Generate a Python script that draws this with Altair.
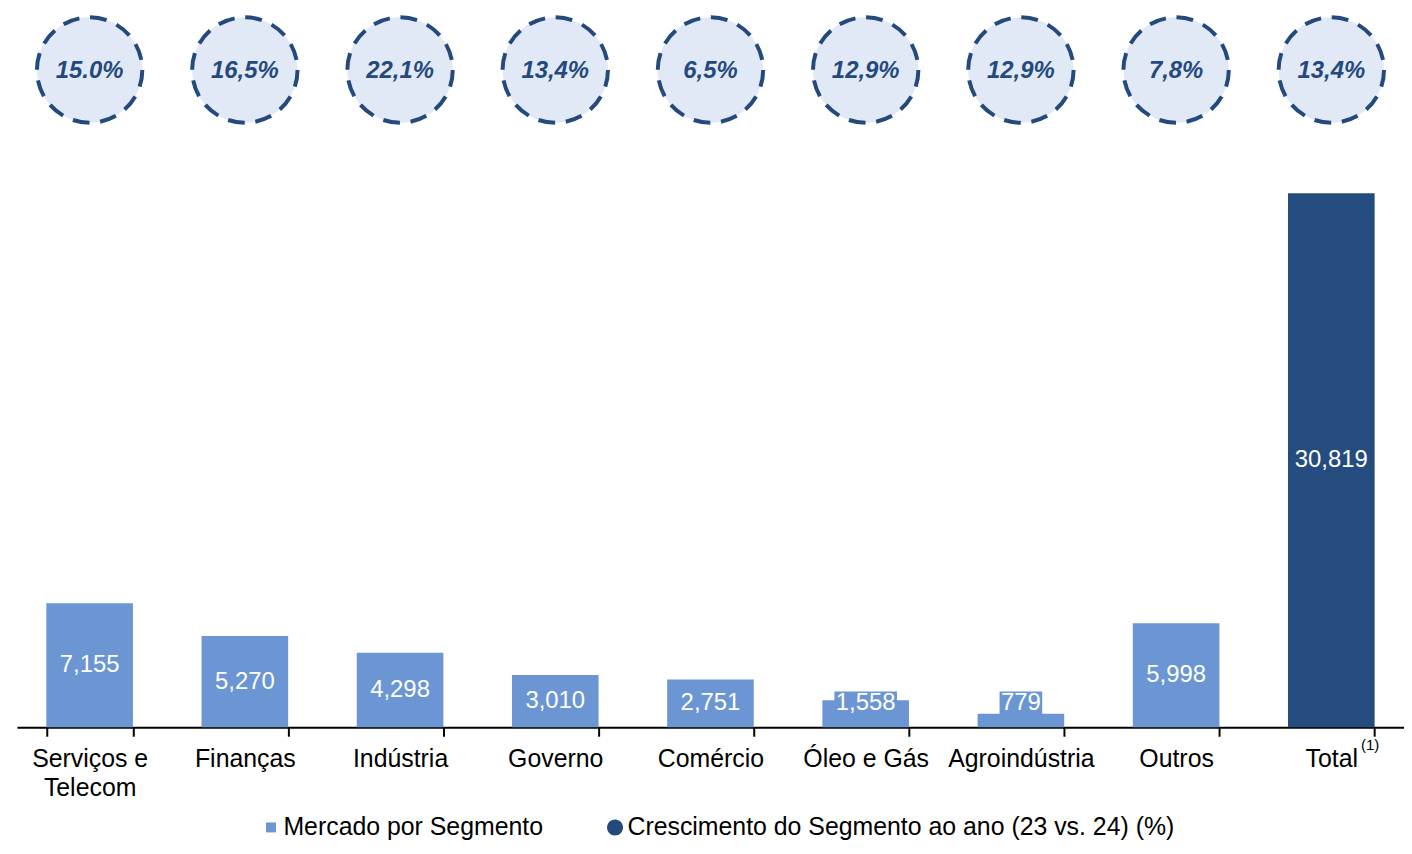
import altair as alt
import pandas as pd

# ---- data ----
categorias = ["Serviços e Telecom", "Finanças", "Indústria", "Governo", "Comércio",
              "Óleo e Gás", "Agroindústria", "Outros", "Total"]
mercado = [7155, 5270, 4298, 3010, 2751, 1558, 779, 5998, 30819]
crescimento = ["15.0%", "16,5%", "22,1%", "13,4%", "6,5%", "12,9%", "12,9%", "7,8%", "13,4%"]
series_legenda = ["Mercado por Segmento", "Crescimento do Segmento ao ano (23 vs. 24) (%)"]
nota_total = "(1)"

# ---- styling / layout ----
LIGHT = "#6b96d3"
DARK = "#254c7f"
CIRCLE_FILL = "#e1e9f6"
CIRCLE_STROKE = "#244a7d"
FONT = "Liberation Sans"

W, H = 1395, 715
YMAX = 41035.0
PX = YMAX / H  # data units per pixel

df = pd.DataFrame({"categoria": categorias, "valor": mercado, "crescimento": crescimento})
df["txt"] = df["valor"].map(lambda v: f"{v:,}")
legend_df = pd.DataFrame({"serie": series_legenda, "categoria": ["Total", "Total"]})
sup_df = pd.DataFrame({"categoria": ["Total"], "nota": [nota_total]})

xscale = alt.Scale(domain=categorias, paddingInner=0.442, paddingOuter=0.1893)
yscale = alt.Scale(domain=[0, YMAX], nice=False, zero=True)

x_enc = alt.X(
    "categoria:N", scale=xscale, sort=categorias, title=None,
    axis=alt.Axis(
        labelAngle=0, labelFont=FONT, labelFontSize=25, labelColor="black",
        labelLimit=0, labelPadding=10, labelBaseline="top", labelLineHeight=30,
        labelExpr="datum.label == 'Serviços e Telecom' ? ['Serviços e', 'Telecom'] : datum.label",
        domainColor="black", domainWidth=2, tickColor="black", tickWidth=2,
        tickSize=9, tickBand="extent", grid=False,
    ),
)
x_plain = alt.X("categoria:N", scale=xscale, sort=categorias)
y_enc = alt.Y("valor:Q", scale=yscale, axis=None, title=None)

base = alt.Chart(df)

bars = base.mark_bar().encode(
    x=x_enc,
    y=y_enc,
    color=alt.condition(alt.datum.categoria == "Total", alt.value(DARK), alt.value(LIGHT)),
)

# near-invisible carrier for the legend, inside the Total bar
SQUARE = "M-0.62,-0.62H0.62V0.62H-0.62Z"
CIRCLE = "M1,0A1,1,0,1,1,-1,0A1,1,0,1,1,1,0Z"
legend_layer = alt.Chart(legend_df).transform_calculate(yv="10000").mark_point(
    filled=True, size=0.5, opacity=1
).encode(
    x=x_plain,
    y=alt.Y("yv:Q", scale=yscale),
    color=alt.Color(
        "serie:N",
        scale=alt.Scale(domain=series_legenda, range=[LIGHT, CIRCLE_STROKE]),
        legend=alt.Legend(
            orient="none", legendX=243, legendY=H + 88, direction="horizontal",
            title=None, labelFont=FONT, labelFontSize=25, labelColor="black",
            labelLimit=0, symbolSize=260, symbolOpacity=1, columnPadding=59,
            labelOffset=0, padding=0, symbolStrokeWidth=0,
        ),
    ),
    shape=alt.Shape(
        "serie:N",
        scale=alt.Scale(domain=series_legenda, range=[SQUARE, CIRCLE]),
    ),
)

lab = base.transform_calculate(
    ly=f"max(datum.valor / 2, {24 * PX})",
    ly0=f"max(datum.valor / 2, {24 * PX}) - {12 * PX}",
    ly1=f"max(datum.valor / 2, {24 * PX}) + {12 * PX}",
    bw="length(datum.txt) * 13.3 - (indexof(datum.txt, ',') >= 0 ? 6.6 : 0) + 3",
)

label_boxes = lab.transform_filter(f"datum.valor / 2 < {24 * PX}").mark_bar(color=LIGHT).encode(
    x=x_plain,
    y=alt.Y("ly0:Q", scale=yscale),
    y2="ly1:Q",
    size=alt.Size("bw:Q", scale=None, legend=None),
)

bar_labels = lab.mark_text(font=FONT, fontSize=24, color="white", baseline="middle").encode(
    x=x_plain,
    y=alt.Y("ly:Q", scale=yscale),
    text="txt:N",
)

circles = base.mark_point(
    shape="circle", filled=False, size=11236, strokeWidth=4,
    strokeDash=[17, 10.75], fill=CIRCLE_FILL, fillOpacity=1, stroke=CIRCLE_STROKE, opacity=1,
).encode(
    x=x_plain,
    y=alt.value(54),
)

circle_text = base.mark_text(
    font=FONT, fontSize=24, fontStyle="italic", fontWeight="bold",
    color=CIRCLE_STROKE, baseline="middle",
).encode(
    x=x_plain,
    y=alt.value(55),
    text="crescimento:N",
)

sup = alt.Chart(sup_df).mark_text(font=FONT, fontSize=15, color="black", dx=39, baseline="middle").encode(
    x=x_plain,
    y=alt.value(H + 18),
    text="nota:N",
)

chart = alt.layer(
    bars, legend_layer, label_boxes, bar_labels, circles, circle_text, sup
).properties(
    width=W, height=H,
    autosize=alt.AutoSizeParams(type="none"),
    padding={"left": 9, "top": 6, "right": 0, "bottom": 112},
).configure(background="white").configure_view(stroke=None)

chart.save("out.html", embed_options={"renderer": "svg", "actions": False})
